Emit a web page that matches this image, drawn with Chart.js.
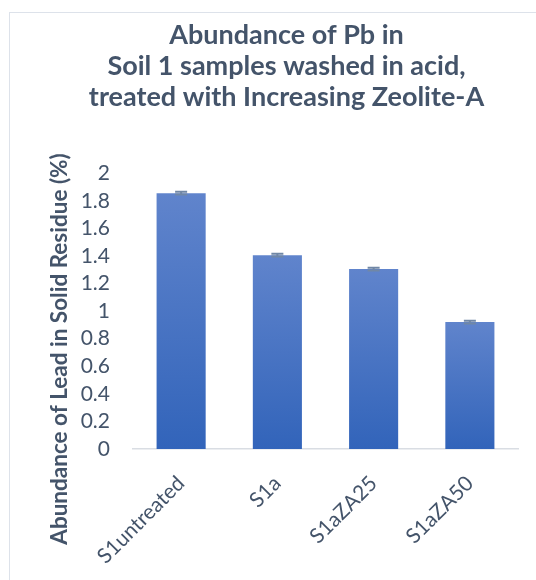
<!DOCTYPE html>
<html lang="en">
<head>
    <meta charset="UTF-8">
    <title>Abundance of Pb in Soil 1 samples</title>
    <script src="https://cdn.jsdelivr.net/npm/chart.js@4.4.0/dist/chart.umd.min.js"></script>
    <style>
        body {
            margin: 0;
            background: #fff;
            font-family: 'Lato', sans-serif;
        }
        .chart-box {
            position: relative;
            width: 536px;
            height: 580px;
        }
        .frame {
            position: absolute;
            left: 9px;
            top: 12px;
            width: 600px;
            height: 600px;
            border-left: 1.5px solid #dde2ea;
            border-top: 1.5px solid #dde2ea;
        }
    </style>
</head>
<body>
    <div class="chart-box">
        <div class="frame"></div>
        <canvas id="pbChart"></canvas>
    </div>

    <script>
        const samples = ['S1untreated', 'S1a', 'S1aZA25', 'S1aZA50'];
        const leadPct = [1.855, 1.405, 1.305, 0.92];
        const leadErr = [0.01, 0.01, 0.01, 0.01];
        const yTicks = [0, 0.2, 0.4, 0.6, 0.8, 1, 1.2, 1.4, 1.6, 1.8, 2];

        const textColor = '#44546a';

        // each bar gets its own light-to-dark vertical fill
        function barFill(ctx) {
            const chart = ctx.chart;
            const y = chart.scales.y;
            if (!y || ctx.dataIndex === undefined) return '#4472c4';
            const top = y.getPixelForValue(leadPct[ctx.dataIndex]);
            const bottom = y.getPixelForValue(0);
            if (!isFinite(top) || !isFinite(bottom) || top === bottom) return '#4472c4';
            const g = chart.ctx.createLinearGradient(0, top, 0, bottom);
            g.addColorStop(0, '#6084cc');
            g.addColorStop(1, '#3264ba');
            return g;
        }

        // small error bars on top of each bar
        const errorBars = {
            id: 'errorBars',
            afterDatasetsDraw(chart) {
                const { ctx } = chart;
                const y = chart.scales.y;
                const meta = chart.getDatasetMeta(0);
                ctx.save();
                ctx.strokeStyle = '#7087a6';
                ctx.lineWidth = 2;
                meta.data.forEach((bar, i) => {
                    const hi = y.getPixelForValue(leadPct[i] + leadErr[i]);
                    const lo = y.getPixelForValue(leadPct[i] - leadErr[i]);
                    ctx.beginPath();
                    ctx.moveTo(bar.x, hi);
                    ctx.lineTo(bar.x, lo);
                    ctx.moveTo(bar.x - 6, hi);
                    ctx.lineTo(bar.x + 6, hi);
                    ctx.moveTo(bar.x - 6, lo);
                    ctx.lineTo(bar.x + 6, lo);
                    ctx.stroke();
                });
                ctx.restore();
            }
        };

        // vertical axis caption, placed beside the tick labels
        const yCaption = {
            id: 'yCaption',
            afterDraw(chart) {
                const { ctx } = chart;
                ctx.save();
                ctx.translate(60, 349);
                ctx.rotate(-Math.PI / 2);
                ctx.font = 'bold 22.5px Lato';
                ctx.fillStyle = textColor;
                ctx.textAlign = 'center';
                ctx.textBaseline = 'middle';
                ctx.fillText('Abundance of Lead in Solid Residue (%)', 0, 0);
                ctx.restore();
            }
        };

        new Chart(document.getElementById('pbChart'), {
            type: 'bar',
            data: {
                labels: samples,
                datasets: [{
                    data: leadPct,
                    backgroundColor: barFill,
                    categoryPercentage: 1,
                    barPercentage: 0.51
                }]
            },
            options: {
                responsive: true,
                maintainAspectRatio: false,
                animation: false,
                layout: {
                    padding: { left: 55, right: 18, top: 20, bottom: 0 }
                },
                plugins: {
                    legend: { display: false },
                    tooltip: { enabled: false },
                    title: {
                        display: true,
                        text: ['Abundance of Pb in', 'Soil 1 samples washed in acid,', 'treated with Increasing Zeolite-A'],
                        color: textColor,
                        font: { family: 'Lato', size: 27, weight: 'bold', lineHeight: 1.15 },
                        padding: { top: 0, bottom: 60 }
                    }
                },
                scales: {
                    x: {
                        grid: { display: false },
                        border: { display: true, color: '#d9dde3', width: 1.5 },
                        ticks: {
                            color: textColor,
                            font: { family: 'Lato', size: 21 },
                            maxRotation: 45,
                            minRotation: 45,
                            padding: 14,
                            autoSkip: false
                        },
                        afterFit(scale) { scale.height = 131; }
                    },
                    y: {
                        min: 0,
                        max: 2,
                        afterBuildTicks(scale) {
                            scale.ticks = yTicks.map(v => ({ value: v }));
                        },
                        grid: { display: false, drawTicks: false },
                        border: { display: false },
                        ticks: {
                            color: textColor,
                            font: { family: 'Lato', size: 21 },
                            padding: 23,
                            autoSkip: false,
                            callback: v => String(v)
                        },
                        afterFit(scale) { scale.width = 78; }
                    }
                }
            },
            plugins: [errorBars, yCaption]
        });
    </script>
</body>
</html>
